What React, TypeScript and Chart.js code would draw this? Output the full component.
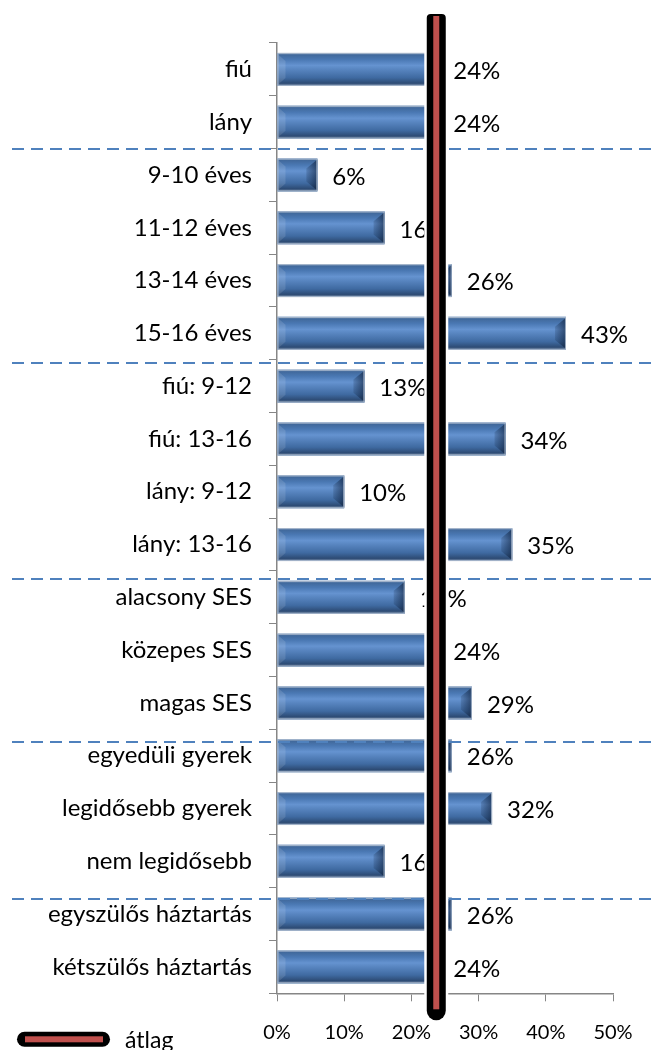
import React, { useEffect, useRef } from "react";
import { Chart, registerables } from "chart.js";

Chart.register(...registerables);

const categories: string[] = [
  "fiú",
  "lány",
  "9-10 éves",
  "11-12 éves",
  "13-14 éves",
  "15-16 éves",
  "fiú: 9-12",
  "fiú: 13-16",
  "lány: 9-12",
  "lány: 13-16",
  "alacsony SES",
  "közepes SES",
  "magas SES",
  "egyedüli gyerek",
  "legidősebb gyerek",
  "nem legidősebb",
  "egyszülős háztartás",
  "kétszülős háztartás",
];
const values: number[] = [24, 24, 6, 16, 26, 43, 13, 34, 10, 35, 19, 24, 29, 26, 32, 16, 26, 24];
const averageValue = 23.7;
const legendLabel = "átlag";
// group separators, expressed as category positions
const separatorPositions: number[] = [1.5, 5.57, 9.65, 12.74, 15.71];
const xMin = 0;
const xMax = 50;
const xStep = 10;

const FONT = "Lato";

const decorPlugin = {
  id: "decor",
  afterDatasetsDraw(chart: any) {
    const { ctx, chartArea, scales } = chart;
    const meta = chart.getDatasetMeta(0);
    ctx.save();
    // bevelled bars
    meta.data.forEach((bar: any) => {
      const p = bar.getProps(["x", "y", "base", "height"], true);
      const left = Math.min(p.base, p.x);
      const right = Math.max(p.base, p.x);
      const top = p.y - p.height / 2;
      const h = p.height;
      const w = right - left;
      const g = ctx.createLinearGradient(0, top, 0, top + h);
      g.addColorStop(0, "#9AAEC8");
      g.addColorStop(0.06, "#41699C");
      g.addColorStop(0.2, "#4A78B3");
      g.addColorStop(0.38, "#6593D0");
      g.addColorStop(0.5, "#5885C0");
      g.addColorStop(0.75, "#3F6AA1");
      g.addColorStop(0.92, "#2D4B74");
      g.addColorStop(1, "#8397B2");
      ctx.fillStyle = g;
      ctx.fillRect(left, top, w, h);
      // right-end bevel
      const bw = Math.min(11, w / 2);
      const gr = ctx.createLinearGradient(right - bw, 0, right, 0);
      gr.addColorStop(0, "rgba(10,25,50,0.15)");
      gr.addColorStop(1, "rgba(10,25,50,0.6)");
      ctx.fillStyle = gr;
      ctx.beginPath();
      ctx.moveTo(right - bw, top + bw * 0.9);
      ctx.lineTo(right, top + 1);
      ctx.lineTo(right, top + h - 1);
      ctx.lineTo(right - bw, top + h - bw * 0.9);
      ctx.closePath();
      ctx.fill();
      // left-end bevel
      ctx.fillStyle = "rgba(255,255,255,0.12)";
      ctx.beginPath();
      ctx.moveTo(left, top + 1);
      ctx.lineTo(left + 8, top + 8);
      ctx.lineTo(left + 8, top + h - 8);
      ctx.lineTo(left, top + h - 1);
      ctx.closePath();
      ctx.fill();
      ctx.strokeStyle = "rgba(170,185,205,0.9)";
      ctx.lineWidth = 1;
      ctx.strokeRect(left + 0.5, top + 0.5, w - 1, h - 1);
    });

    // dashed separators
    ctx.strokeStyle = "#4F81BD";
    ctx.lineWidth = 2;
    ctx.setLineDash([12, 7]);
    separatorPositions.forEach((pos) => {
      const y = Math.round(scales.y.getPixelForValue(pos));
      ctx.beginPath();
      ctx.moveTo(12, y);
      ctx.lineTo(chart.width, y);
      ctx.stroke();
    });
    ctx.setLineDash([]);

    // value labels
    ctx.fillStyle = "#000";
    ctx.font = `24px ${FONT}`;
    ctx.textAlign = "left";
    ctx.textBaseline = "middle";
    meta.data.forEach((bar: any, i: number) => {
      const p = bar.getProps(["x", "y"], true);
      ctx.fillText(`${values[i]}%`, p.x + 15, p.y + 2);
    });

    // average line
    const ax = scales.x.getPixelForValue(averageValue);
    const top = chartArea.top - 29;
    const bottom = chartArea.bottom + 27;
    ctx.fillStyle = "#fff";
    ctx.beginPath();
    ctx.roundRect(ax - 12, top - 2, 24, bottom - top + 4, [5, 5, 12, 12]);
    ctx.fill();
    ctx.fillStyle = "#000";
    ctx.beginPath();
    ctx.roundRect(ax - 9.5, top, 19, bottom - top, [4, 4, 9.5, 9.5]);
    ctx.fill();
    ctx.fillStyle = "#C0504D";
    ctx.fillRect(ax - 3, top + 2, 6, bottom - top - 13);

    // legend
    const ly = chartArea.bottom + 46;
    ctx.fillStyle = "#000";
    ctx.beginPath();
    ctx.roundRect(17, ly - 7.5, 93, 15, 7.5);
    ctx.fill();
    ctx.fillStyle = "#C0504D";
    ctx.fillRect(25, ly - 3, 78, 6);
    ctx.fillStyle = "#000";
    ctx.font = `23px ${FONT}`;
    ctx.textAlign = "left";
    ctx.textBaseline = "middle";
    ctx.fillText(legendLabel, 125, ly + 1);
    ctx.restore();
  },
};

export default function App() {
  const ref = useRef<HTMLCanvasElement | null>(null);
  useEffect(() => {
    if (!ref.current) return;
    const chart = new Chart(ref.current, {
      type: "bar",
      data: {
        labels: categories,
        datasets: [
          {
            data: values,
            backgroundColor: "#4F81BD",
            borderWidth: 0,
            barPercentage: 0.625,
            categoryPercentage: 1,
          },
        ],
      },
      options: {
        indexAxis: "y",
        animation: false,
        responsive: true,
        maintainAspectRatio: false,
        layout: { padding: { top: 43, right: 40, left: 0, bottom: 0 } },
        plugins: { legend: { display: false }, tooltip: { enabled: false } },
        scales: {
          x: {
            min: xMin,
            max: xMax,
            ticks: {
              stepSize: xStep,
              color: "#000",
              font: { family: FONT, size: 20 },
              padding: 19,
              callback: (v: any) => `${v}%`,
            },
            grid: { drawOnChartArea: false, drawTicks: true, tickLength: 8, color: "#868686" },
            border: { color: "#868686", width: 1.5 },
            afterFit: (s: any) => {
              s.height = 56.7;
            },
          },
          y: {
            ticks: {
              color: "#000",
              font: { family: FONT, size: 24 },
              padding: 17,
              autoSkip: false,
            },
            grid: { offset: true, drawOnChartArea: false, drawTicks: true, tickLength: 8, color: "#868686" },
            border: { color: "#868686", width: 1.5 },
            afterFit: (s: any) => {
              s.width = 277;
            },
          },
        },
      },
      plugins: [decorPlugin],
    });
    return () => chart.destroy();
  }, []);
  return (
    <div style={{ position: "absolute", left: 0, top: 0, width: 653, height: 1050 }}>
      <canvas ref={ref} />
    </div>
  );
}
